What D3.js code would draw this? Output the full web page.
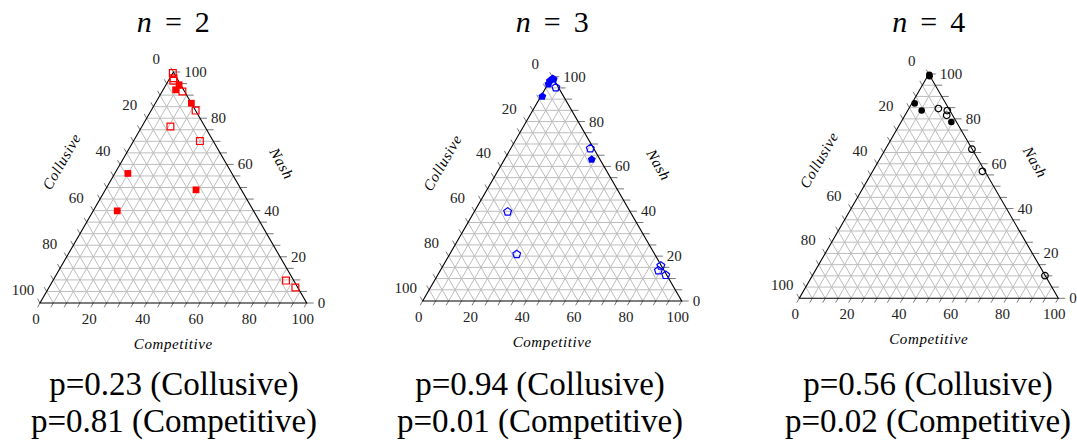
<!DOCTYPE html>
<html>
<head>
<meta charset="utf-8">
<script src="https://cdn.jsdelivr.net/npm/d3@7.9.0/dist/d3.min.js"></script>
<style>
  body { margin: 0; background: #fff; }
  svg { display: block; }
  text { font-family: "Liberation Serif", serif; }
</style>
</head>
<body>
<svg id="chart" width="1077" height="441"></svg>
<script>
const PANEL_N = [2, 3, 4];
const P_COLLUSIVE = ['0.23', '0.94', '0.56'];
const P_COMPETITIVE = ['0.81', '0.01', '0.02'];
const TICK_LABELS = [0, 20, 40, 60, 80, 100];

// points are [competitive, nash]; collusive = 100 - competitive - nash
const n2Filled = [[4.9, 94.5], [4.7, 92.3], [13.5, 86.5], [4.9, 56.1], [34.0, 49.0], [9.0, 39.9]];
const n2Open = [[0, 99.6], [1.4, 97.3], [1.9, 96.2], [7.6, 91.6], [16.7, 83.3], [10.7, 76.4],
                [24.9, 70.1], [87.4, 9.7], [92.4, 6.7]];
const n3Filled = [[0.6, 99.1], [0, 98.1], [0.2, 96.7], [1.2, 98.8], [0.6, 91.2], [33.7, 63.1]];
const n3Open = [[3.8, 95.2], [30.7, 68.0], [12.9, 39.8], [25.9, 20.8], [84.1, 15.7], [84.2, 13.6], [88.1, 11.5]];
const n4Filled = [[0.4, 99.6], [0.8, 99.0], [1.1, 86.9], [5.4, 83.7], [19.4, 78.6]];
const n4Open = [[11.4, 84.6], [15.3, 83.7], [16.1, 81.6], [33.4, 66.5], [42.4, 56.6], [89.8, 10.1]];

const FONT = 'Liberation Serif';

const pentagon = {
  draw(ctx, size) {
    const r = Math.sqrt(size / 2.38);
    for (let i = 0; i < 5; i++) {
      const a = -Math.PI / 2 + i * 2 * Math.PI / 5;
      const x = r * Math.cos(a), y = r * Math.sin(a);
      if (i === 0) ctx.moveTo(x, y); else ctx.lineTo(x, y);
    }
    ctx.closePath();
  }
};

const panels = [
  { left: 40, base: 303, width: 266.7, textX: 174, color: '#ff0000', shape: d3.symbolSquare, size: 46,
    filled: n2Filled, open: n2Open },
  { left: 422.7, base: 301, width: 259, textX: 540, color: '#0000ff', shape: pentagon, size: 40,
    filled: n3Filled, open: n3Open },
  { left: 799.3, base: 298.3, width: 259, textX: 928, color: '#000000', shape: d3.symbolCircle, size: 34,
    filled: n4Filled, open: n4Open },
];

const svg = d3.select('#chart');
const steps = d3.range(0, 101, 5);

panels.forEach((p, i) => {
  const h = p.width * Math.sqrt(3) / 2;
  const xScale = d3.scaleLinear().domain([0, 100]).range([p.left, p.left + p.width]);
  const yScale = d3.scaleLinear().domain([0, 100]).range([p.base, p.base - h]);
  const proj = (comp, nash) => [xScale(comp + nash / 2), yScale(nash)];
  const apexX = xScale(50);

  const g = svg.append('g');

  // grid
  const grid = g.append('g').attr('stroke', '#bdbdbd').attr('stroke-width', 1).attr('fill', 'none');
  steps.slice(1, -1).forEach(v => {
    // constant nash (horizontal)
    let a = proj(0, v), b = proj(100 - v, v);
    grid.append('line').attr('x1', a[0]).attr('y1', a[1]).attr('x2', b[0]).attr('y2', b[1]);
    // constant competitive (parallel to left edge)
    a = proj(v, 0); b = proj(v, 100 - v);
    grid.append('line').attr('x1', a[0]).attr('y1', a[1]).attr('x2', b[0]).attr('y2', b[1]);
    // constant collusive (parallel to right edge)
    a = proj(100 - v, 0); b = proj(0, 100 - v);
    grid.append('line').attr('x1', a[0]).attr('y1', a[1]).attr('x2', b[0]).attr('y2', b[1]);
  });

  // ticks
  const ticks = g.append('g').attr('stroke', '#555').attr('stroke-width', 0.8);
  const tl = 5;
  steps.forEach(v => {
    let a = proj(v, 0);
    ticks.append('line').attr('x1', a[0]).attr('y1', a[1])
      .attr('x2', a[0] - 0.5 * tl).attr('y2', a[1] + 0.866 * tl);
    a = proj(0, 100 - v);
    ticks.append('line').attr('x1', a[0]).attr('y1', a[1])
      .attr('x2', a[0] - 0.5 * tl).attr('y2', a[1] - 0.866 * tl);
    a = proj(100 - v, v);
    ticks.append('line').attr('x1', a[0]).attr('y1', a[1])
      .attr('x2', a[0] + tl + 2).attr('y2', a[1]);
  });

  // triangle
  const tri = [proj(0, 0), proj(100, 0), proj(0, 100)];
  g.append('path').attr('d', d3.line()(tri) + 'Z')
    .attr('fill', 'none').attr('stroke', '#000').attr('stroke-width', 1.1);

  // tick labels
  const lab = g.append('g').attr('font-size', 15).attr('fill', '#222').attr('font-family', FONT);
  TICK_LABELS.forEach(v => {
    let a = proj(v, 0);
    lab.append('text').attr('x', a[0] - 4).attr('y', a[1] + 21).attr('text-anchor', 'middle').text(v);
    a = proj(0, 100 - v);
    lab.append('text').attr('x', a[0] - 17).attr('y', a[1] - 8).attr('text-anchor', 'middle').text(v);
    a = proj(100 - v, v);
    lab.append('text').attr('x', a[0] + 11).attr('y', a[1] + 5).attr('text-anchor', 'start').text(v);
  });

  // axis titles
  const mid = (u, w) => [(u[0] + w[0]) / 2, (u[1] + w[1]) / 2];
  const axisTitle = () => g.append('text').attr('font-family', FONT).attr('font-style', 'italic')
    .attr('font-size', 15).attr('text-anchor', 'middle').attr('letter-spacing', 0.6);
  const lm = mid(tri[0], tri[2]);
  axisTitle().attr('transform', `translate(${lm[0] - 52 * 0.866},${lm[1] - 52 * 0.5}) rotate(-60)`)
    .attr('dy', 5).text('Collusive');
  const rm = mid(tri[1], tri[2]);
  axisTitle().attr('transform', `translate(${rm[0] + 48 * 0.866},${rm[1] - 48 * 0.5}) rotate(60)`)
    .attr('dy', 5).text('Nash');
  axisTitle().attr('x', apexX).attr('y', p.base + 46).text('Competitive');

  // markers
  const sym = d3.symbol().type(p.shape).size(p.size);
  g.append('g').selectAll('path').data(p.open).join('path')
    .attr('transform', d => `translate(${proj(d[0], d[1])})`)
    .attr('d', sym).attr('fill', 'none').attr('stroke', p.color).attr('stroke-width', 1.2);
  g.append('g').selectAll('path').data(p.filled).join('path')
    .attr('transform', d => `translate(${proj(d[0], d[1])})`)
    .attr('d', sym).attr('fill', p.color);

  // title
  const t = svg.append('g').attr('font-size', 30).attr('fill', '#000').attr('font-family', FONT);
  t.append('text').attr('x', apexX - 29).attr('y', 32).attr('text-anchor', 'middle')
    .attr('font-style', 'italic').text('n');
  t.append('text').attr('x', apexX).attr('y', 32).attr('text-anchor', 'middle').text('=');
  t.append('text').attr('x', apexX + 29).attr('y', 32).attr('text-anchor', 'middle').text(PANEL_N[i]);

  // p-values
  const b = svg.append('g').attr('font-size', 33).attr('text-anchor', 'middle').attr('font-family', FONT);
  b.append('text').attr('x', p.textX).attr('y', 395).text(`p=${P_COLLUSIVE[i]} (Collusive)`);
  b.append('text').attr('x', p.textX).attr('y', 432).text(`p=${P_COMPETITIVE[i]} (Competitive)`);
});
</script>
</body>
</html>
